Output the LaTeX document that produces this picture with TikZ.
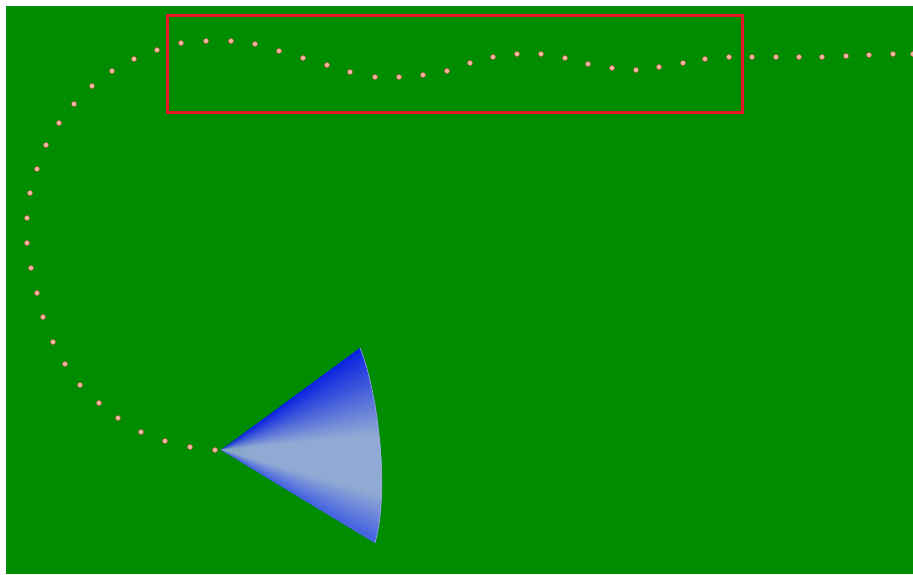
\documentclass[tikz,border=0pt]{standalone}
\usetikzlibrary{calc}

\definecolor{field}{RGB}{0,140,0}
\definecolor{framered}{RGB}{235,20,45}
\definecolor{dotfill}{RGB}{244,185,165}
\definecolor{dotrim}{RGB}{215,80,65}
\definecolor{coneA}{RGB}{8,32,225}
\definecolor{coneB}{RGB}{145,170,212}
\definecolor{coneC}{RGB}{55,85,228}
\definecolor{conerim}{RGB}{160,165,236}

\begin{document}
\begin{tikzpicture}[
	x=1pt, y=-1pt,
	waypoint/.style={ circle, draw=dotrim, thin, fill=dotfill, inner sep=0pt, minimum size=5pt },
	window/.style={ draw=framered, line width=2.8pt }
]

\useasboundingbox (0,0) rectangle (913,574);
\fill[field] (6,6) rectangle (913,574);

% search window
\node (win) [window, inner sep=0pt, minimum width=575pt, minimum height=97pt, anchor=north west] at (166,14) {};

% field of view
\coordinate (apex) at (221,450);
\coordinate (fovtop) at (360,348);
\coordinate (fovbot) at (375,543);
\begin{scope}
	\clip (apex) -- (fovtop) .. controls (378,392) and (390,490) .. (fovbot) -- cycle;
	\foreach \i in {0,...,47} {
		\pgfmathsetmacro{\a}{-38+\i*1.5}
		\pgfmathsetmacro{\b}{\a+2.2}
		\pgfmathsetmacro{\t}{\i/47}
		\ifdim \t pt < 0.45pt
			\pgfmathtruncatemacro{\p}{100*\t/0.45}
			\colorlet{wedge}{coneB!\p!coneA}
		\else\ifdim \t pt < 0.75pt
			\colorlet{wedge}{coneB}
		\else
			\pgfmathtruncatemacro{\p}{100*(\t-0.75)/0.25}
			\colorlet{wedge}{coneC!\p!coneB}
		\fi\fi
		\fill[wedge] (apex) -- ($(apex)+(\a:320)$) -- ($(apex)+(\b:320)$) -- cycle;
	}
\end{scope}
\draw[conerim, line width=0.6pt] (fovtop) .. controls (378,392) and (390,490) .. (fovbot);

% trajectory
\foreach \x/\y [count=\k] in {215/450,190/447,165/441,141/432,118/418,99/403,80/385,65/364,53/342,43/317,
	37/293,31/268,27/243,27/218,30/193,37/169,46/145,59/123,74/104,92/86,112/71,134/59,157/50,
	181/43,206/41,231/41,255/44,279/51,303/58,327/65,350/72,375/77,399/77,423/75,447/71,470/63,
	493/57,517/54,541/54,565/58,588/64,612/68,636/70,659/67,683/63,705/59,729/57,752/57,776/57,
	799/57,822/57,846/56,869/55,893/54,913/54}
	\node (wp\k) [waypoint] at (\x,\y) {};

\end{tikzpicture}
\end{document}
